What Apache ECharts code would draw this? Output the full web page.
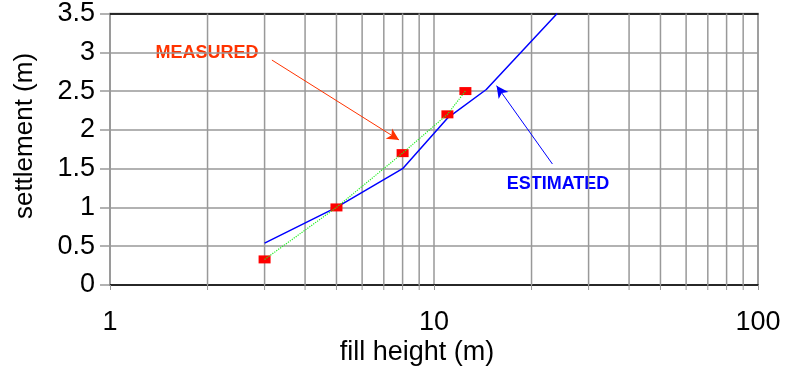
<!DOCTYPE html>
<html>
<head>
<meta charset="utf-8">
<script src="https://cdn.jsdelivr.net/npm/echarts@6/dist/echarts.min.js"></script>
<style>
  html, body { margin: 0; padding: 0; background: #fff; }
  #chart { width: 787px; height: 372px; }
</style>
</head>
<body>
<div id="chart"></div>
<script>
// Settlement vs fill height: estimated curve and measured points
const fillHeightEstimated = [3, 5, 8, 11, 14.5, 24];
const settlementEstimated = [0.54, 1.0, 1.5, 2.15, 2.52, 3.5];
const fillHeightMeasured = [3, 5, 8, 11, 12.5];
const settlementMeasured = [0.33, 1.0, 1.7, 2.2, 2.5];
// Intermediate log-decade grid lines
const minorGridValues = [2, 3, 4, 5, 6, 7, 8, 9, 20, 30, 40, 50, 60, 70, 80, 90];
// Annotation arrows in data coordinates [from, to]
const measuredArrow = [[3.16, 2.9], [7.8, 1.87]];
const estimatedArrow = [[23.2, 1.56], [15.6, 2.57]];

const FONT = 'Arial, "Liberation Sans", sans-serif';
const GRID_COLOR = '#999999';

const chart = echarts.init(document.getElementById('chart'), null, { renderer: 'canvas' });

const estimatedData = fillHeightEstimated.map((x, i) => [x, settlementEstimated[i]]);
const measuredData = fillHeightMeasured.map((x, i) => [x, settlementMeasured[i]]);

chart.setOption({
  animation: false,
  backgroundColor: '#ffffff',
  grid: {
    left: 110, right: 29, top: 13, bottom: 87,
    show: true, borderColor: GRID_COLOR, borderWidth: 1.5
  },
  xAxis: [{
    type: 'log', logBase: 10, min: 1, max: 100,
    axisLine: { show: true, lineStyle: { color: '#000', width: 1.5 } },
    axisTick: { show: true, length: 5, lineStyle: { color: GRID_COLOR, width: 1 } },
    axisLabel: { color: '#000', fontFamily: FONT, fontSize: 27, margin: 24 },
    splitLine: { show: true, lineStyle: { color: GRID_COLOR, width: 1.5 } },
    minorTick: { show: false }
  }, {
    type: 'log', logBase: 10, min: 1, max: 100, position: 'top',
    axisLine: { show: true, lineStyle: { color: '#000', width: 1.5 } },
    axisTick: { show: false }, axisLabel: { show: false }, splitLine: { show: false }
  }],
  yAxis: {
    type: 'value', min: 0, max: 3.5, interval: 0.5,
    axisLine: { show: true, lineStyle: { color: GRID_COLOR, width: 1.5 } },
    axisTick: { show: true, length: 10, lineStyle: { color: GRID_COLOR, width: 1.5 } },
    axisLabel: { color: '#000', fontFamily: FONT, fontSize: 27, margin: 15 },
    splitLine: { show: true, lineStyle: { color: GRID_COLOR, width: 1.5 } }
  },
  series: [{
    name: 'grid',
    type: 'custom',
    silent: true,
    clip: false,
    z: 1,
    data: minorGridValues.map(v => [v, 0]),
    encode: { x: 0, y: 1 },
    renderItem: (params, api) => {
      const v = api.value(0);
      const top = api.coord([v, 3.5]);
      const bottom = api.coord([v, 0]);
      return {
        type: 'group',
        children: [{
          type: 'line',
          shape: { x1: top[0], y1: top[1], x2: bottom[0], y2: bottom[1] },
          style: { stroke: GRID_COLOR, lineWidth: 1.5 }
        }, {
          type: 'line',
          shape: { x1: bottom[0], y1: bottom[1], x2: bottom[0], y2: bottom[1] + 5 },
          style: { stroke: GRID_COLOR, lineWidth: 1 }
        }]
      };
    }
  }, {
    name: 'ESTIMATED',
    type: 'line',
    data: estimatedData,
    showSymbol: false,
    symbol: 'none',
    z: 3,
    lineStyle: { color: '#0000ff', width: 1.5 },
    markLine: {
      silent: true,
      symbol: ['none', 'arrow'],
      symbolSize: [9, 12],
      label: { show: false },
      lineStyle: { color: '#0000ff', width: 1, type: 'solid' },
      data: [[{ coord: estimatedArrow[0] }, { coord: estimatedArrow[1] }]]
    }
  }, {
    name: 'MEASURED points',
    type: 'scatter',
    data: measuredData,
    symbol: 'rect',
    symbolSize: [12, 8],
    z: 4,
    itemStyle: { color: '#ff0000', opacity: 1 }
  }, {
    name: 'MEASURED',
    type: 'line',
    data: measuredData,
    symbol: 'none',
    z: 5,
    lineStyle: { color: '#22ee22', width: 1.2, type: 'dotted' },
    markLine: {
      silent: true,
      symbol: ['none', 'arrow'],
      symbolSize: [9, 12],
      label: { show: false },
      lineStyle: { color: '#ff3300', width: 1, type: 'solid' },
      data: [[{ coord: measuredArrow[0] }, { coord: measuredArrow[1] }]]
    }
  }],
  graphic: [{
    type: 'text',
    style: {
      text: 'MEASURED', x: 207, y: 53, align: 'center', verticalAlign: 'middle',
      fill: '#ff3300', font: 'bold 18px ' + FONT
    }
  }, {
    type: 'text',
    style: {
      text: 'ESTIMATED', x: 558, y: 184, align: 'center', verticalAlign: 'middle',
      fill: '#0000ff', font: 'bold 18px ' + FONT
    }
  }, {
    type: 'text',
    style: {
      text: 'fill height (m)', x: 417, y: 353, align: 'center', verticalAlign: 'middle',
      fill: '#000', font: '27px ' + FONT
    }
  }, {
    type: 'text',
    x: 25, y: 136, rotation: Math.PI / 2,
    style: {
      text: 'settlement (m)', x: 0, y: 0, align: 'center', verticalAlign: 'middle',
      fill: '#000', font: '26px ' + FONT
    }
  }]
});
</script>
</body>
</html>
